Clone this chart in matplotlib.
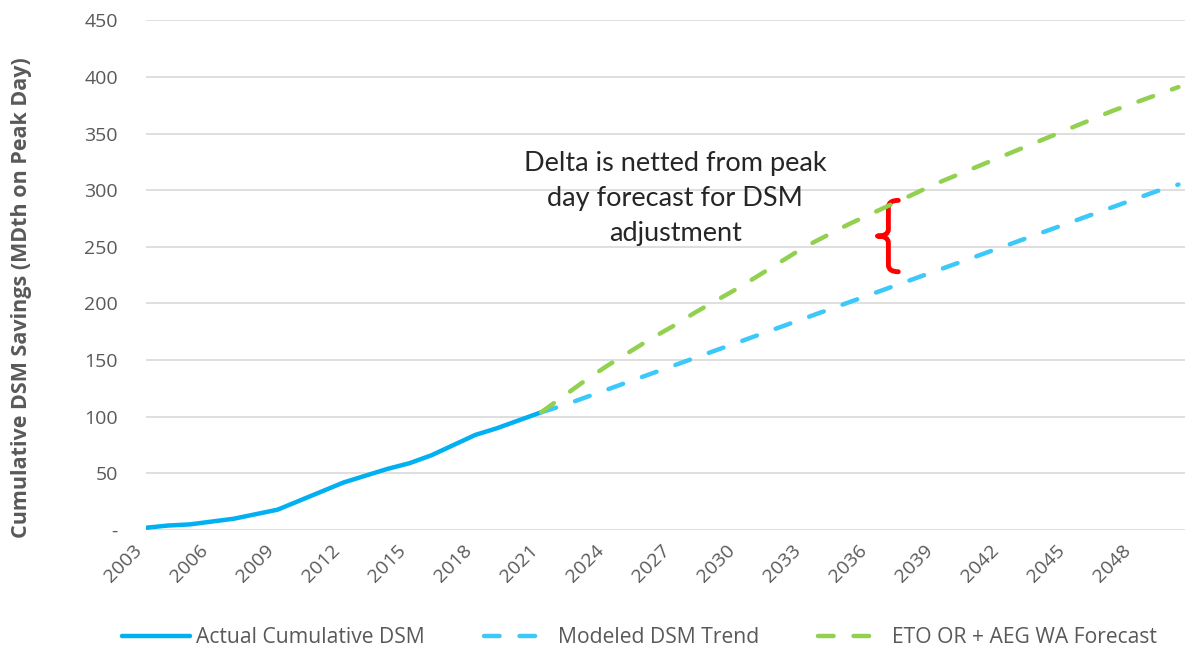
import numpy as np
import matplotlib
matplotlib.use("Agg")
import matplotlib.pyplot as plt
from matplotlib.path import Path
from matplotlib.patches import PathPatch

plt.rcParams['font.family'] = ['Open Sans', 'DejaVu Sans']

# data
actual_years = list(range(2003, 2022))
actual_vals = [2, 4, 5, 7.5, 10, 14, 18, 26, 34, 42, 48, 54, 59, 66, 75, 84, 90, 97, 104]

fc_years = list(range(2021, 2051))
modeled_vals = [104, 110, 117, 124, 131, 138, 145, 152, 159, 166, 173, 180, 187, 194,
                201, 208, 215, 222, 229, 236, 243, 250, 257, 264, 271, 278, 285, 292,
                299, 305]
eto_vals = [104, 118, 132, 145, 157, 169, 180, 192, 203, 214, 226, 238, 250, 260,
            270, 279, 288, 297, 306, 314, 322, 330, 338, 346, 354, 362, 370, 377,
            384, 391]

tick_years = list(range(2003, 2050, 3))
y_ticks = list(range(0, 451, 50))

c_actual = "#00B0F0"
c_modeled = "#3CC8F8"
c_eto = "#92D050"
grey = "#595959"

fig = plt.figure(figsize=(11.85, 6.52), dpi=100)
ax = fig.add_axes([0.123, 0.187, 0.877, 0.782])

ax.plot(actual_years, actual_vals, color=c_actual, lw=3.2, solid_capstyle='round',
        label="Actual Cumulative DSM")
ax.plot(fc_years, modeled_vals, color=c_modeled, lw=3.2, dashes=(3.5, 4.5),
        dash_capstyle='round', label="Modeled DSM Trend")
ax.plot(fc_years, eto_vals, color=c_eto, lw=3.2, dashes=(3.5, 4.5),
        dash_capstyle='round', label="ETO OR + AEG WA Forecast")

ax.set_xlim(2003, 2050.3)
ax.set_ylim(0, 450)
ax.set_yticks(y_ticks)
ax.set_yticklabels(["-"] + [str(v) for v in y_ticks[1:]])
ax.set_xticks(tick_years)
ax.set_xticklabels([str(y) for y in tick_years], rotation=45, ha='right')
ax.tick_params(axis='both', length=0, colors=grey, labelsize=14)
ax.tick_params(axis='y', pad=20)
ax.tick_params(axis='x', pad=8)
ax.grid(axis='y', color="#D9D9D9", lw=1.2)
ax.set_axisbelow(True)
for s in ax.spines.values():
    s.set_visible(False)

fig.text(0.018, 0.544, "Cumulative DSM Savings (MDth on Peak Day)",
         rotation=90, ha='center', va='center', fontsize=15.5, fontweight='bold', color=grey)

ax.text(2027.1, 293, "Delta is netted from peak\nday forecast for DSM\nadjustment",
        ha='center', va='center', fontsize=19.5, color="#262626", linespacing=1.5,
        family='Lato')

# red curly brace between the two forecasts
xr, xm, xl = 2037.25, 2036.8, 2036.3
yt, yb = 291, 228
ym = (yt + yb) / 2
verts = [(xr, yt), (xm, yt), (xm, yt - 6), (xm, ym + 6), (xm, ym), (xl, ym),
         (xm, ym), (xm, ym - 6), (xm, yb + 6), (xm, yb), (xr, yb)]
codes = [Path.MOVETO, Path.CURVE3, Path.CURVE3, Path.LINETO, Path.CURVE3, Path.CURVE3,
         Path.CURVE3, Path.CURVE3, Path.LINETO, Path.CURVE3, Path.CURVE3]
ax.add_patch(PathPatch(Path(verts, codes), fill=False, edgecolor='#FF0000', lw=3.5,
                       capstyle='round', joinstyle='round'))

leg = fig.legend(loc='center', bbox_to_anchor=(0.5397, 0.022), ncol=3, frameon=False,
                 fontsize=15.2, handlelength=3.2, columnspacing=2.8, handletextpad=0.3)
for t in leg.get_texts():
    t.set_color(grey)

fig.savefig("out.png", dpi=100)
